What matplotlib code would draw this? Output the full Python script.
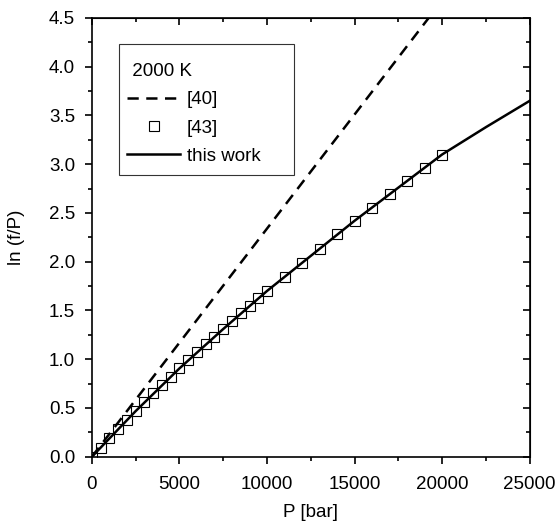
import numpy as np
import matplotlib.pyplot as plt
from matplotlib.ticker import MultipleLocator
from matplotlib.patches import Rectangle

plt.rcParams['font.family'] = ['Liberation Sans', 'DejaVu Sans']
plt.rcParams['font.size'] = 13.5

# [43] tabulated values at 2000 K
P43 = [1, 500, 1000, 1500, 2000, 2500, 3000, 3500, 4000, 4500, 5000,
       5500, 6000, 6500, 7000, 7500, 8000, 8500, 9000, 9500, 10000,
       11000, 12000, 13000, 14000, 15000, 16000, 17000, 18000, 19000, 20000]
lnf43 = [0.0, 0.092, 0.189, 0.281, 0.376, 0.468, 0.557, 0.65, 0.735, 0.82, 0.906,
         0.995, 1.07, 1.153, 1.23, 1.31, 1.39, 1.47, 1.544, 1.623, 1.70,
         1.84, 1.99, 2.135, 2.28, 2.415, 2.55, 2.69, 2.83, 2.96, 3.09]

# [40] straight line
P40 = [0, 5000, 10000, 15000, 20000]
lnf40 = [0.0, 1.17, 2.34, 3.51, 4.68]

# this work
Pw = [0, 2500, 5000, 7500, 10000, 12500, 15000, 17500, 20000, 22500, 25000]
lnfw = [0.0, 0.468, 0.906, 1.31, 1.70, 2.06, 2.42, 2.76, 3.10, 3.38, 3.65]

fig = plt.figure(figsize=(5.57, 5.28), dpi=100)
ax = fig.add_axes([0.165, 0.135, 0.786, 0.831])

ax.plot(P40, lnf40, 'k', ls=(0, (4.5, 3)), lw=1.8, label='[40]')
ax.plot(P43, lnf43, 's', ms=6.7, mfc='none', mec='k', mew=0.8, label='[43]')
ax.plot(Pw, lnfw, 'k-', lw=1.8, label='this work')

ax.set_xlim(0, 25000)
ax.set_ylim(0, 4.5)
ax.xaxis.set_major_locator(MultipleLocator(5000))
ax.xaxis.set_minor_locator(MultipleLocator(2500))
ax.yaxis.set_major_locator(MultipleLocator(0.5))
ax.yaxis.set_minor_locator(MultipleLocator(0.25))
ax.yaxis.set_major_formatter(plt.FormatStrFormatter('%.1f'))
ax.tick_params(which='both', direction='out', width=1.2)
ax.tick_params(axis='x', pad=9)
ax.tick_params(axis='y', pad=7)
ax.tick_params(which='major', length=5)
ax.tick_params(which='minor', length=3)
for s in ax.spines.values():
    s.set_linewidth(1.2)

# inward ticks on the opposite sides
top = ax.secondary_xaxis('top')
top.xaxis.set_major_locator(MultipleLocator(5000))
top.xaxis.set_minor_locator(MultipleLocator(2500))
top.tick_params(which='both', direction='in', labeltop=False, width=1.2)
top.tick_params(which='major', length=5)
top.tick_params(which='minor', length=3)
right = ax.secondary_yaxis('right')
right.yaxis.set_major_locator(MultipleLocator(0.5))
right.yaxis.set_minor_locator(MultipleLocator(0.25))
right.tick_params(which='both', direction='in', labelright=False, width=1.2)
right.tick_params(which='major', length=5)
right.tick_params(which='minor', length=3)

ax.set_xlabel('P [bar]', labelpad=8)
ax.set_ylabel('ln (f/P)', labelpad=17)

# legend box drawn separately so the padding above the title can be larger
ax.add_patch(Rectangle((0.062, 0.642), 0.4, 0.298, transform=ax.transAxes,
                       fill=True, facecolor='white', edgecolor='#333333',
                       lw=0.8, zorder=4))
leg = ax.legend(title=' 2000 K', loc='upper left', bbox_to_anchor=(0.062, 0.0, 0.4, 0.917),
                mode='expand', frameon=False,
                handlelength=2.8, handletextpad=0.35, labelspacing=0.6,
                borderpad=0.45, borderaxespad=0, title_fontsize=13.5)
leg._legend_box.align = 'left'
leg.set_zorder(5)

fig.savefig('out.png', dpi=100)
